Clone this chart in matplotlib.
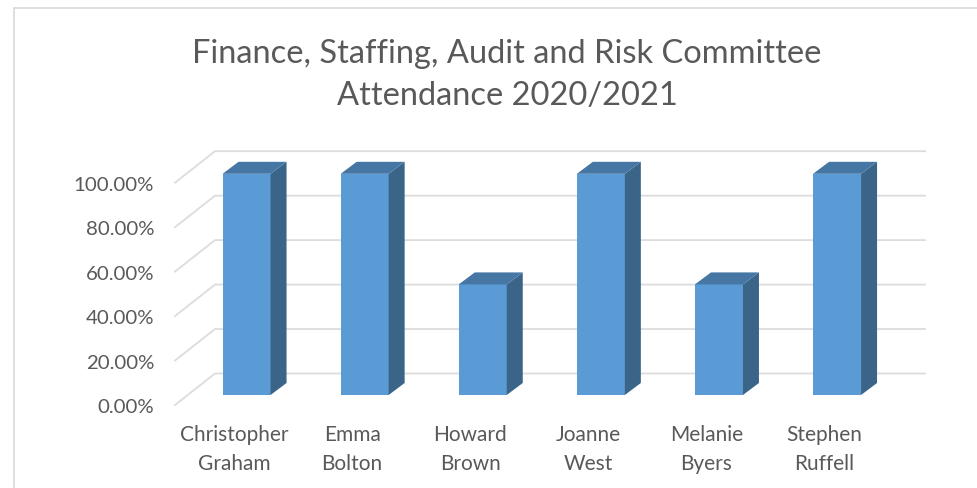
import matplotlib
matplotlib.use("Agg")
import matplotlib.pyplot as plt
from matplotlib.lines import Line2D
from matplotlib.patches import Polygon

names = ["Christopher\nGraham", "Emma\nBolton", "Howard\nBrown", "Joanne\nWest", "Melanie\nByers", "Stephen\nRuffell"]
attendance = [100, 100, 50, 100, 50, 100]
y_ticks = [0, 20, 40, 60, 80, 100]

W, H = 977, 489
GREY = "#595959"
GRID = "#dcdcdc"

# pixels per unit on each axis
PX_X = 118.1
PX_Y = 2.223


def px_x(p):
    return p / PX_X


def px_y(p):
    return p / PX_Y


plt.rcParams["font.family"] = ["Lato", "DejaVu Sans"]

fig = plt.figure(figsize=(W / 100, H / 100), dpi=100)
ax = fig.add_axes([175 / W, 1 - 406 / H, 750 / W, 255 / H])
ax.set_xlim(-0.5, -0.5 + 750 / PX_X)
ax.set_ylim(0, 255 / PX_Y)

# gridlines: slanted part on the side wall, flat part on the back wall
depth_x, depth_y = px_x(40), px_y(31.5)
x_left = -0.5
x_right = -0.5 + 750 / PX_X
for v in y_ticks:
    ax.plot([x_left, x_left + depth_x, x_right], [v, v + depth_y, v + depth_y],
            color=GRID, lw=1.3, solid_joinstyle="miter", zorder=1, clip_on=False)

# 3d bars, set back from the front plane
shift_x, shift_y = px_x(12.5), px_y(10)
bar_w = px_x(48)
bar_dx, bar_dy = px_x(16), px_y(12)
for i, val in enumerate(attendance):
    x0 = i + shift_x - bar_w / 2
    x1 = x0 + bar_w
    y0 = shift_y
    y1 = val * 0.995 + shift_y
    ax.bar(x0, y1 - y0, width=bar_w, bottom=y0, align="edge", color="#5b9bd5", zorder=3)
    ax.add_patch(Polygon([(x1, y0), (x1 + bar_dx, y0 + bar_dy), (x1 + bar_dx, y1 + bar_dy), (x1, y1)],
                         closed=True, facecolor="#3a6588", edgecolor="none", zorder=3))
    ax.add_patch(Polygon([(x0, y1), (x1, y1), (x1 + bar_dx, y1 + bar_dy), (x0 + bar_dx, y1 + bar_dy)],
                         closed=True, facecolor="#4676a3", edgecolor="none", zorder=3))

ax.set_xticks(range(len(names)))
ax.set_xticklabels(names, fontsize=15, color=GREY, linespacing=1.52)
ax.set_yticks(y_ticks)
ax.set_yticklabels([f"{v:.2f}%" for v in y_ticks], fontsize=14.7, color=GREY)
ax.tick_params(axis="x", length=0, pad=14)
ax.tick_params(axis="y", length=0, pad=15)
for s in ax.spines.values():
    s.set_visible(False)
ax.patch.set_alpha(0)

fig.text(507 / W, 1 - 75 / H, "Finance, Staffing, Audit and Risk Committee\nAttendance 2020/2021",
         ha="center", va="center", fontsize=23.5, color=GREY, linespacing=1.46)

# chart frame, cut off by the screenshot on the right and bottom
fig.add_artist(Line2D([13.5 / W, 13.5 / W], [0, 1 - 8.5 / H], color=GRID, lw=1.3))
fig.add_artist(Line2D([13.5 / W, 1], [1 - 8.5 / H, 1 - 8.5 / H], color=GRID, lw=1.3))

fig.savefig("out.png", dpi=100)
